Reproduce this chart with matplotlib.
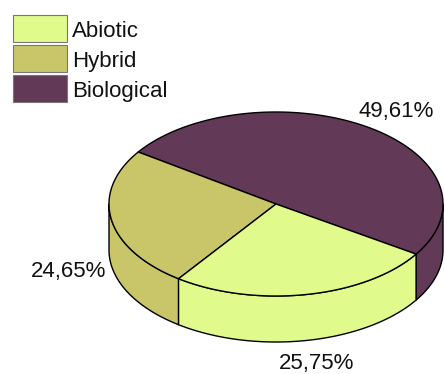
import numpy as np
import matplotlib
matplotlib.use("Agg")
import matplotlib.pyplot as plt
from matplotlib.patches import Polygon, Rectangle

plt.rcParams['font.family'] = ['Liberation Sans', 'DejaVu Sans']

# Data
categories = ['Abiotic', 'Hybrid', 'Biological']
shares = [25.75, 24.65, 49.61]
colors = ['#E0FA8C', '#C8C668', '#623A57']

# Drawing order around the pie (counter-clockwise from the start angle)
pie_order = ['Biological', 'Hybrid', 'Abiotic']

W, H = 445, 374
fig = plt.figure(figsize=(W / 100, H / 100), dpi=100)
ax = fig.add_axes([0, 0, 1, 1])
ax.set_xlim(0, W)
ax.set_ylim(H, 0)
ax.axis('off')

# Pie geometry (pixel space, y pointing down)
cx, cy = 276, 204
ra, rb = 167, 92
depth = 46
start = -33.0
edge_kw = dict(edgecolor='black', linewidth=1.0, joinstyle='round')


def arc(t0, t1, dz=0.0, n=200):
    t = np.radians(np.linspace(t0, t1, n))
    return np.column_stack([cx + ra * np.cos(t), cy - rb * np.sin(t) + dz])


total = sum(shares)
slices = []
ang = start
for name in pie_order:
    i = categories.index(name)
    span = 360.0 * shares[i] / total
    slices.append((ang, ang + span, colors[i]))
    ang += span

# Front side walls (visible half: angles 180..360 mod 360)
for s, e, col in slices:
    for lo, hi in [(-180, 0), (180, 360), (540, 720)]:
        a0, a1 = max(s, lo), min(e, hi)
        if a1 > a0:
            top = arc(a0, a1)
            bot = arc(a0, a1, depth)[::-1]
            ax.add_patch(Polygon(np.vstack([top, bot]), closed=True,
                                 facecolor=col, **edge_kw))

# Top face
for s, e, col in slices:
    pts = np.vstack([[cx, cy], arc(s, e)])
    ax.add_patch(Polygon(pts, closed=True, facecolor=col, **edge_kw))

# Percentage labels
label_pos = {'Biological': (396, 116.7), 'Hybrid': (69, 277.3),
             'Abiotic': (317, 368.5)}
for name, v in zip(categories, shares):
    x, y = label_pos[name]
    ax.text(x, y, f"{v:.2f}".replace('.', ',') + '%', ha='center',
            va='baseline', fontsize=16, color='#111111')

# Legend
for k, (name, col) in enumerate(zip(categories, colors)):
    y0 = 15 + 30 * k
    ax.add_patch(Rectangle((13, y0), 54, 26.7, facecolor=col,
                           edgecolor='#777777', linewidth=0.8))
    ax.text(72, y0 + 21.7, name, ha='left', va='baseline', fontsize=16,
            color='#111111')

fig.savefig('out.png', dpi=100)
